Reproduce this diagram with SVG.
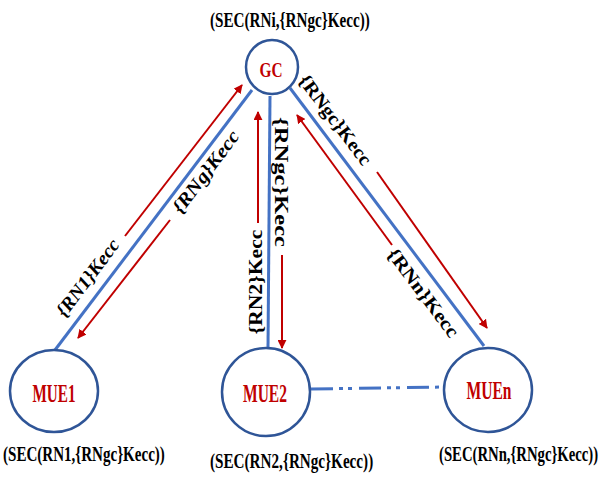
<svg xmlns="http://www.w3.org/2000/svg" width="607" height="477" viewBox="0 0 607 477">
<defs>
<marker id="ah" viewBox="0 0 10 10" refX="9" refY="5" markerWidth="4.5" markerHeight="4.5" orient="auto" markerUnits="strokeWidth">
<path d="M0,0 L10,5 L0,10 z" fill="#c00000"/>
</marker>
<style>
.node{fill:#fff;stroke:#2f5597;stroke-width:2.5}
.nt{font-family:"Liberation Serif","Times New Roman",serif;font-weight:bold;fill:#c00000;text-anchor:middle}
.lab{font-family:"Liberation Serif","Times New Roman",serif;font-weight:bold;fill:#000;font-size:22px}
.el{font-family:"Liberation Serif","Times New Roman",serif;font-weight:bold;fill:#000;font-size:19px;text-anchor:middle}
.it{font-style:italic}
.link{stroke:#4472c4;stroke-width:3;fill:none}
.arr{stroke:#c00000;stroke-width:2;fill:none;marker-end:url(#ah)}
</style>
</defs>
<rect width="607" height="477" fill="#fff"/>
<g id="connectors">
<line class="link" x1="252" y1="90" x2="55" y2="350"/>
<line class="link" x1="270" y1="96" x2="268" y2="348"/>
<line class="link" x1="290" y1="88" x2="484" y2="346"/>
<line class="link" x1="311" y1="389" x2="444" y2="387" stroke-width="4" stroke-dasharray="22 6 4 5 4 7"/>
<line class="arr" x1="125" y1="236" x2="242" y2="85"/>
<line class="arr" x1="170" y1="220" x2="78" y2="338"/>
<line class="arr" x1="258" y1="223" x2="258" y2="112"/>
<line class="arr" x1="282" y1="255" x2="282" y2="348"/>
<line class="arr" x1="392" y1="245" x2="297" y2="115"/>
<line class="arr" x1="377" y1="172" x2="487" y2="328"/>
<text class="el it" transform="translate(88,278) rotate(-53)" y="6" textLength="92" lengthAdjust="spacingAndGlyphs">{RN1}Kecc</text>
<text class="el it" transform="translate(206,172) rotate(-53)" y="6" textLength="98" lengthAdjust="spacingAndGlyphs">{RNg}Kecc</text>
<text class="el" transform="translate(256,282) rotate(-90)" y="6" textLength="105" lengthAdjust="spacingAndGlyphs">{RN2}Kecc</text>
<text class="el" transform="translate(281,182) rotate(90)" y="6" textLength="130" lengthAdjust="spacingAndGlyphs">{RNgc}Kecc</text>
<text class="el" transform="translate(335,120) rotate(53)" y="6" textLength="108" lengthAdjust="spacingAndGlyphs">{RNgc}Kecc</text>
<text class="el" transform="translate(423,293) rotate(53)" y="6" textLength="106" lengthAdjust="spacingAndGlyphs">{RNn}Kecc</text>
</g>
<g id="GC">
<ellipse class="node" cx="272" cy="67" rx="26" ry="27"/>
<text class="nt" x="271" y="77" font-size="21" textLength="23" lengthAdjust="spacingAndGlyphs">GC</text>
<text class="lab" transform="translate(210,27) scale(0.68,1)" textLength="235" lengthAdjust="spacingAndGlyphs">(SEC(RNi,{RNgc}Kecc))</text>
</g>
<g id="MUE1">
<ellipse class="node" cx="54" cy="391" rx="44" ry="41"/>
<text class="nt" x="54" y="402" font-size="25" textLength="43" lengthAdjust="spacingAndGlyphs">MUE1</text>
<text class="lab" transform="translate(3,461) scale(0.68,1)" textLength="238" lengthAdjust="spacingAndGlyphs">(SEC(RN1,{RNgc}Kecc))</text>
</g>
<g id="MUE2">
<ellipse class="node" cx="266" cy="392" rx="44" ry="44"/>
<text class="nt" x="265" y="402" font-size="25" textLength="44" lengthAdjust="spacingAndGlyphs">MUE2</text>
<text class="lab" transform="translate(210,468) scale(0.68,1)" textLength="240" lengthAdjust="spacingAndGlyphs">(SEC(RN2,{RNgc}Kecc))</text>
</g>
<g id="MUEn">
<ellipse class="node" cx="488" cy="390" rx="44" ry="42"/>
<text class="nt" x="489" y="399" font-size="25" textLength="45" lengthAdjust="spacingAndGlyphs">MUEn</text>
<text class="lab" transform="translate(439,461) scale(0.68,1)" textLength="234" lengthAdjust="spacingAndGlyphs">(SEC(RNn,{RNgc}Kecc))</text>
</g>
</svg>
